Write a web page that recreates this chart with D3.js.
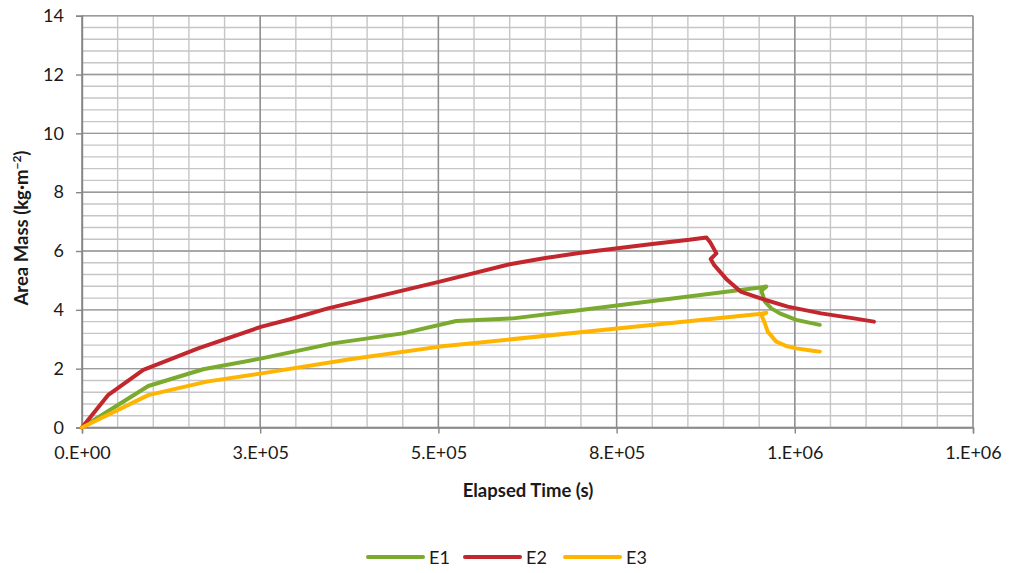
<!DOCTYPE html>
<html>
<head>
<meta charset="utf-8">
<script src="https://cdn.jsdelivr.net/npm/d3@7"></script>
<style>
  html, body { margin: 0; padding: 0; background: #ffffff; }
  svg { display: block; }
  text { font-family: Lato, "Open Sans", sans-serif; fill: #1a1a1a; }
</style>
</head>
<body>
<script>
// Elapsed time (s) and area mass (kg·m⁻²) for the three specimens
const e1Time = [0, 93000, 170000, 252000, 352000, 450000, 525000, 605000, 703000, 960000, 953000, 958000, 967000, 979000, 1002000, 1035000];
const e1Mass = [0, 1.41, 1.98, 2.35, 2.86, 3.20, 3.62, 3.71, 4.00, 4.79, 4.65, 4.28, 4.05, 3.88, 3.66, 3.49];

const e2Time = [0, 37000, 86000, 163000, 252000, 292000, 345000, 502000, 600000, 650000, 700000, 800000, 852000, 876000, 881000, 890000, 882000, 887000, 905000, 924000, 952000, 990000, 1037000, 1083000, 1111000];
const e2Mass = [0, 1.11, 1.96, 2.69, 3.43, 3.68, 4.05, 4.96, 5.55, 5.76, 5.94, 6.24, 6.38, 6.46, 6.31, 5.92, 5.73, 5.52, 5.02, 4.62, 4.39, 4.11, 3.88, 3.71, 3.60];

const e3Time = [0, 93000, 175000, 252000, 376000, 502000, 768000, 950000, 960000, 953000, 958000, 962000, 974000, 988000, 1002000, 1025000, 1035000];
const e3Mass = [0, 1.10, 1.56, 1.84, 2.32, 2.75, 3.41, 3.86, 3.90, 3.83, 3.54, 3.26, 2.92, 2.77, 2.69, 2.61, 2.58];

const seriesNames = ["E1", "E2", "E3"];
const seriesColors = ["#7aab2f", "#c3272e", "#ffb500"];

const xMajorTicks = [0, 250000, 500000, 750000, 1000000, 1250000];
const xTickLabels = ["0.E+00", "3.E+05", "5.E+05", "8.E+05", "1.E+06", "1.E+06"];
const yMajorTicks = [0, 2, 4, 6, 8, 10, 12, 14];

const W = 1012, H = 573;
const svg = d3.select("body").append("svg").attr("width", W).attr("height", H);

const x = d3.scaleLinear().domain([0, 1250000]).range([82, 973]);
const y = d3.scaleLinear().domain([0, 14]).range([427.5, 15.7]);

const xMinor = d3.range(0, 1250001, 50000);
const yMinor = d3.range(0, 14.001, 0.4).map(v => +v.toFixed(1));

// minor grid
const grid = svg.append("g");
grid.selectAll("line.vmin").data(xMinor).join("line")
  .attr("x1", d => x(d)).attr("x2", d => x(d))
  .attr("y1", y(0)).attr("y2", y(14))
  .attr("stroke", "#c6c6c6").attr("stroke-width", 1.4);
grid.selectAll("line.hmin").data(yMinor).join("line")
  .attr("x1", x(0)).attr("x2", x(1250000))
  .attr("y1", d => y(d)).attr("y2", d => y(d))
  .attr("stroke", "#c6c6c6").attr("stroke-width", 1.4);

// major grid
grid.selectAll("line.vmaj").data(xMajorTicks).join("line")
  .attr("x1", d => x(d)).attr("x2", d => x(d))
  .attr("y1", y(0)).attr("y2", y(14))
  .attr("stroke", "#8c8c8c").attr("stroke-width", 1.4);
grid.selectAll("line.hmaj").data(yMajorTicks).join("line")
  .attr("x1", x(0)).attr("x2", x(1250000))
  .attr("y1", d => y(d)).attr("y2", d => y(d))
  .attr("stroke", "#9a9a9a").attr("stroke-width", 1.4);

// axes
const yAxis = d3.axisLeft(y).tickValues(yMajorTicks).tickSize(6).tickPadding(12).tickFormat(d3.format("d"));
const gy = svg.append("g").attr("transform", `translate(${x(0)},0)`).call(yAxis);
gy.select(".domain").attr("stroke", "#868686").attr("stroke-width", 1.4);
gy.selectAll(".tick line").attr("stroke", "#868686").attr("stroke-width", 1.4);
gy.selectAll(".tick text").style("font-size", "18px").attr("fill", "#1a1a1a");

const xAxis = d3.axisBottom(x).tickValues(xMajorTicks).tickSize(6).tickPadding(13)
  .tickFormat((d, i) => xTickLabels[i]);
const gx = svg.append("g").attr("transform", `translate(0,${y(0)})`).call(xAxis);
gx.select(".domain").attr("stroke", "#868686").attr("stroke-width", 1.4);
gx.selectAll(".tick line").attr("stroke", "#868686").attr("stroke-width", 1.4);
gx.selectAll(".tick text").style("font-size", "18px").attr("fill", "#1a1a1a");

// series lines
const series = [
  { t: e1Time, m: e1Mass },
  { t: e2Time, m: e2Mass },
  { t: e3Time, m: e3Mass }
];
const line = d3.line().x(d => x(d[0])).y(d => y(d[1]));
series.forEach((s, i) => {
  svg.append("path")
    .datum(s.t.map((t, k) => [t, s.m[k]]))
    .attr("d", line)
    .attr("fill", "none")
    .attr("stroke", seriesColors[i])
    .attr("stroke-width", 4)
    .attr("stroke-linejoin", "round")
    .attr("stroke-linecap", "round");
});

// axis titles
svg.append("text")
  .attr("x", 528).attr("y", 497)
  .attr("text-anchor", "middle")
  .style("font-size", "18.5px").style("font-weight", "bold")
  .text("Elapsed Time (s)");

const yt = svg.append("text")
  .attr("transform", "translate(28,228) rotate(-90)")
  .attr("text-anchor", "middle")
  .style("font-size", "18.5px").style("font-weight", "bold");
yt.append("tspan").text("Area Mass (kg·m");
yt.append("tspan").attr("dy", -7).style("font-size", "12px").text("−2");
yt.append("tspan").attr("dy", 7).text(")");

// legend
const legendX = [368, 465, 565];
const lg = svg.append("g");
seriesNames.forEach((name, i) => {
  lg.append("line")
    .attr("x1", legendX[i]).attr("x2", legendX[i] + 55)
    .attr("y1", 557).attr("y2", 557)
    .attr("stroke", seriesColors[i]).attr("stroke-width", 4)
    .attr("stroke-linecap", "round");
  lg.append("text")
    .attr("x", legendX[i] + 61).attr("y", 563.5)
    .style("font-size", "18px")
    .text(name);
});
</script>
</body>
</html>
